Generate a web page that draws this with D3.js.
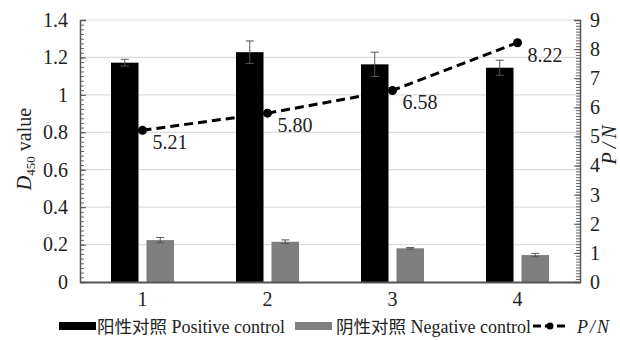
<!DOCTYPE html>
<html>
<head>
<meta charset="utf-8">
<script src="https://cdn.jsdelivr.net/npm/d3@7/dist/d3.min.js"></script>
<style>
  html, body { margin: 0; padding: 0; background: #fff; }
  svg { display: block; }
</style>
</head>
<body>
<svg id="chart" width="620" height="340"></svg>
<script>
// Groups and measured values
const categories = ["1", "2", "3", "4"];
const positiveValues = [1.172, 1.228, 1.163, 1.145];
const positiveErrors = [0.018, 0.06, 0.065, 0.04];
const negativeValues = [0.224, 0.215, 0.180, 0.144];
const negativeErrors = [0.014, 0.010, 0.004, 0.009];
const pnValues = [5.21, 5.80, 6.58, 8.22];
const pnLabels = ["5.21", "5.80", "6.58", "8.22"];
const leftTicks = [0, 0.2, 0.4, 0.6, 0.8, 1, 1.2, 1.4];
const rightTicks = [0, 1, 2, 3, 4, 5, 6, 7, 8, 9];
const legendCn = ["阳性对照", "阴性对照"];
const legendEn = ["Positive control", "Negative control"];

const SERIF = '"Liberation Serif", "Times New Roman", "DejaVu Serif", serif';
const CJK = '"Noto Sans CJK SC", sans-serif';

const svg = d3.select("#chart").style("font-family", SERIF);
const plotLeft = 80, plotRight = 580, plotTop = 20, plotBottom = 282;

const x = d3.scaleBand().domain(categories).range([plotLeft, plotRight])
  .paddingInner(0.496).paddingOuter(0.248);
const xSub = d3.scaleBand().domain(["pos", "neg"]).range([0, x.bandwidth()]).paddingInner(0.225);
const yL = d3.scaleLinear().domain([0, 1.4]).range([plotBottom, plotTop]);
const yR = d3.scaleLinear().domain([0, 9]).range([plotBottom, plotTop]);

// Horizontal gridlines
svg.append("g").selectAll("line").data(leftTicks.slice(1)).join("line")
  .attr("x1", plotLeft).attr("x2", plotRight)
  .attr("y1", d => yL(d)).attr("y2", d => yL(d))
  .attr("stroke", "#dcdcdc").attr("stroke-width", 1.2);

// Bars
const series = [
  { key: "pos", values: positiveValues, errors: positiveErrors, color: "#000000" },
  { key: "neg", values: negativeValues, errors: negativeErrors, color: "#7f7f7f" }
];
series.forEach(s => {
  const g = svg.append("g");
  g.selectAll("rect").data(categories).join("rect")
    .attr("x", (c) => x(c) + xSub(s.key))
    .attr("width", xSub.bandwidth())
    .attr("y", (c, i) => yL(s.values[i]))
    .attr("height", (c, i) => yL(0) - yL(s.values[i]))
    .attr("fill", s.color);
  // error bars
  const eg = g.selectAll("g.err").data(categories).join("g").attr("class", "err");
  const cx = c => x(c) + xSub(s.key) + xSub.bandwidth() / 2;
  eg.append("line")
    .attr("x1", cx).attr("x2", cx)
    .attr("y1", (c, i) => yL(s.values[i] - s.errors[i]))
    .attr("y2", (c, i) => yL(s.values[i] + s.errors[i]))
    .attr("stroke", "#555").attr("stroke-width", 1);
  [-1, 1].forEach(sign => {
    eg.append("line")
      .attr("x1", c => cx(c) - 4).attr("x2", c => cx(c) + 4)
      .attr("y1", (c, i) => yL(s.values[i] + sign * s.errors[i]))
      .attr("y2", (c, i) => yL(s.values[i] + sign * s.errors[i]))
      .attr("stroke", "#555").attr("stroke-width", 1);
  });
});

function styleAxisText(ax) {
  ax.attr("font-family", null).attr("font-size", null);
  ax.selectAll("text")
    .style("font-family", SERIF).style("font-size", "20px").attr("fill", "#222");
}

// Left axis with inward minor ticks
const minorL = d3.range(0, 1.4001, 0.025);
svg.append("g").attr("transform", `translate(${plotLeft},0)`)
  .call(d3.axisLeft(yL).tickValues(minorL).tickSize(-4).tickFormat(""))
  .call(g => g.select(".domain").remove())
  .selectAll("line").attr("stroke", "#666");
const axL = svg.append("g").attr("transform", `translate(${plotLeft},0)`)
  .call(d3.axisLeft(yL).tickValues(leftTicks).tickSize(-6).tickPadding(12).tickFormat(d3.format("")));
axL.select(".domain").attr("stroke", "#555").attr("stroke-width", 1.5);
axL.selectAll(".tick line").attr("stroke", "#555");
styleAxisText(axL);

// Right axis with inward minor ticks
const minorR = d3.range(0, 9.0001, 0.1);
svg.append("g").attr("transform", `translate(${plotRight},0)`)
  .call(d3.axisRight(yR).tickValues(minorR).tickSize(-4).tickFormat(""))
  .call(g => g.select(".domain").remove())
  .selectAll("line").attr("stroke", "#666");
const axR = svg.append("g").attr("transform", `translate(${plotRight},0)`)
  .call(d3.axisRight(yR).tickValues(rightTicks).tickSize(-6).tickPadding(10));
axR.select(".domain").attr("stroke", "#555").attr("stroke-width", 1.5);
axR.selectAll(".tick line").attr("stroke", "#555");
styleAxisText(axR);

// Bottom axis
const axB = svg.append("g").attr("transform", `translate(0,${plotBottom})`)
  .call(d3.axisBottom(x).tickSize(0).tickPadding(10));
axB.select(".domain").attr("stroke", "#555").attr("stroke-width", 2.2);
styleAxisText(axB);

// Axis titles
const tL = svg.append("text")
  .attr("transform", "translate(31,149) rotate(-90)")
  .attr("text-anchor", "middle").style("font-size", "20px").attr("fill", "#222");
tL.append("tspan").attr("font-style", "italic").text("D");
tL.append("tspan").attr("dy", 4).style("font-size", "13px").text("450");
tL.append("tspan").attr("dy", -4).text(" value");

svg.append("text")
  .attr("transform", "translate(616,143) rotate(-90)")
  .attr("text-anchor", "middle").style("font-size", "20px").attr("font-style", "italic")
  .style("letter-spacing", "4px")
  .attr("fill", "#222")
  .text("P/N");

// P/N line
const px = c => x(c) + x.bandwidth() / 2;
const line = d3.line().x((d, i) => px(categories[i])).y(d => yR(d));
svg.append("path").datum(pnValues)
  .attr("d", line).attr("fill", "none")
  .attr("stroke", "#000").attr("stroke-width", 3)
  .attr("stroke-dasharray", "9,5");
svg.append("g").selectAll("circle").data(pnValues).join("circle")
  .attr("cx", (d, i) => px(categories[i])).attr("cy", d => yR(d))
  .attr("r", 4.5).attr("fill", "#000");
svg.append("g").selectAll("text").data(pnValues).join("text")
  .attr("x", (d, i) => px(categories[i]) + 10)
  .attr("y", d => yR(d) + 19)
  .style("font-size", "20px").attr("fill", "#222")
  .text((d, i) => pnLabels[i]);

// Legend
const lg = svg.append("g").style("font-size", "18px");
const ly = 327;
let cursor = 59;
const sw = 37;
["#000000", "#7f7f7f"].forEach((col, k) => {
  lg.append("rect").attr("x", cursor).attr("y", ly - 5).attr("width", sw).attr("height", 8).attr("fill", col);
  cursor += sw + (k === 0 ? 1 : 4);
  const t = lg.append("text").attr("x", cursor).attr("y", ly + 6).attr("fill", "#222");
  t.append("tspan").style("font-family", CJK).style("font-size", "17.5px").text(legendCn[k]);
  t.append("tspan").text(" " + legendEn[k]);
  cursor += t.node().getComputedTextLength() + (k === 0 ? 10 : 0);
});
lg.append("line").attr("x1", cursor + 2).attr("x2", cursor + 36).attr("y1", ly - 1).attr("y2", ly - 1)
  .attr("stroke", "#000").attr("stroke-width", 3).attr("stroke-dasharray", "8,4");
lg.append("circle").attr("cx", cursor + 19).attr("cy", ly - 1).attr("r", 3.5).attr("fill", "#000");
lg.append("text").attr("x", cursor + 46).attr("y", ly + 6).attr("font-style", "italic")
  .style("letter-spacing", "2px")
  .attr("fill", "#222").text("P/N");
</script>
</body>
</html>
